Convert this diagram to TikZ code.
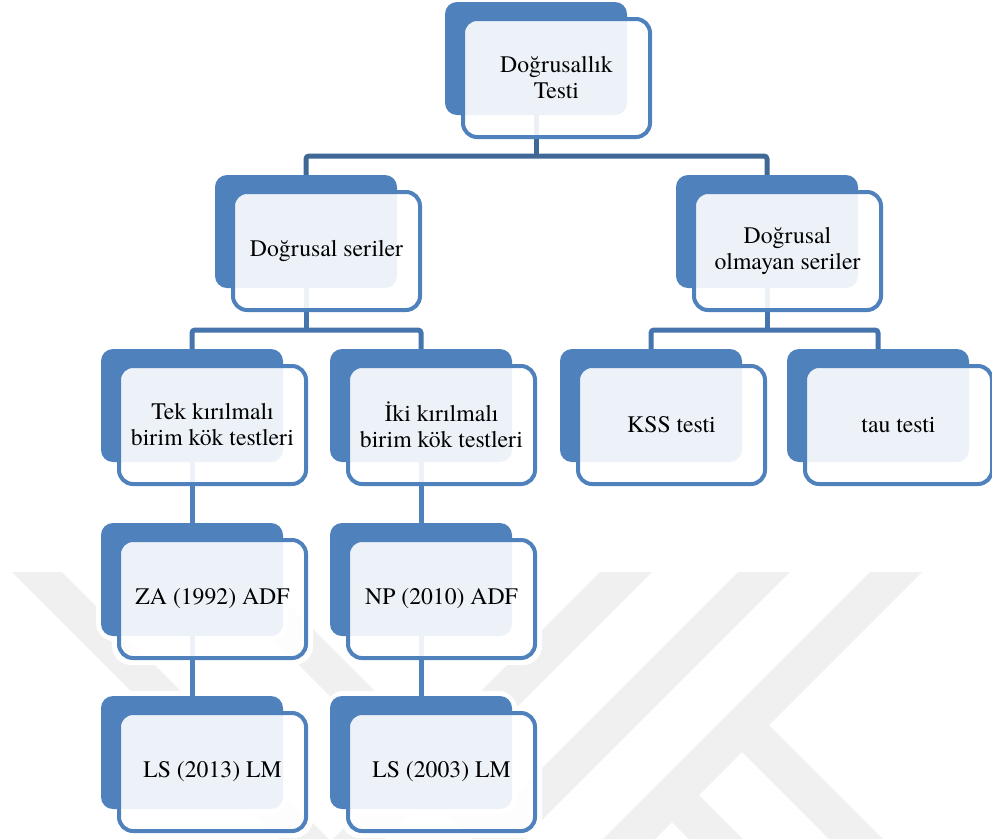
\documentclass[tikz,border=0pt]{standalone}
\usepackage{fontspec}
\IfFontExistsTF{texgyretermes-regular.otf}
  {\setmainfont{texgyretermes-regular.otf}}
  {\setmainfont{Liberation Serif}}
\usetikzlibrary{calc,positioning}
\definecolor{accent}{HTML}{4F81BD}
\definecolor{wiretop}{HTML}{3F6897}
\definecolor{wiremid}{HTML}{4674AD}
\definecolor{markgray}{HTML}{F0F0F0}
\pgfdeclarelayer{mark}
\pgfdeclarelayer{halo}
\pgfdeclarelayer{wire}
\pgfsetlayers{mark,halo,wire,main}
\tikzset{
  backbox/.style={rectangle, rounded corners=12pt, fill=accent,
    minimum width=182pt, minimum height=113pt, inner sep=0pt},
  frontbox/.style={rectangle, rounded corners=14pt, draw=accent, line width=4pt,
    fill=white, fill opacity=0.9, text opacity=1, minimum width=187pt,
    minimum height=118pt, inner sep=0pt, align=center,
    font=\fontsize{23.7}{26}\selectfont},
  wire/.style={line width=5pt, rounded corners=3pt},
  halo/.style={draw=white, line width=10pt, rounded corners=14pt},
}

\begin{document}
\begin{tikzpicture}[x=1pt, y=-1pt]
  \useasboundingbox (0,0) rectangle (992,839);

  % boxes: back centre and text
  \foreach \n/\x/\y/\txt in {
      TEST/536/58.5/{Doğrusallık\\Testi},
      LIN/306/231.5/{Doğrusal seriler},
      NONLIN/767/231.5/{Doğrusal\\olmayan seriler},
      TEK/192/405.5/{Tek kırılmalı\\birim kök testleri},
      IKI/421/405.5/{İki kırılmalı\\birim kök testleri},
      KSS/651/405.5/{KSS testi},
      TAU/878/405.5/{tau testi},
      ZA/192/579.5/{ZA (1992) ADF},
      NP/421/579.5/{NP (2010) ADF},
      LSA/192/752.5/{LS (2013) LM},
      LSB/421/752.5/{LS (2003) LM}} {
    \node[backbox] (\n-b) at (\x,\y) {};
    \node[frontbox] (\n) at ([shift={(20.5,19.5)}]\n-b.center) {\txt};
  }

  \coordinate (BUS1) at (0,156);
  \coordinate (BUS2) at (0,330);

  \begin{pgfonlayer}{wire}
    \draw[wire, draw=wiretop] (TEST-b.south) -- (TEST-b.south |- BUS1);
    \draw[wire, draw=wiretop] (LIN-b.north) -- (LIN-b.north |- BUS1) -| (NONLIN-b.north);
    \draw[wire, draw=wiremid] (LIN-b.south) -- (LIN-b.south |- BUS2);
    \draw[wire, draw=wiremid] (TEK-b.north) -- (TEK-b.north |- BUS2) -| (IKI-b.north);
    \draw[wire, draw=wiremid] (NONLIN-b.south) -- (NONLIN-b.south |- BUS2);
    \draw[wire, draw=wiremid] (KSS-b.north) -- (KSS-b.north |- BUS2) -| (TAU-b.north);
    \draw[wire, draw=accent] (TEK-b.south) -- (ZA-b.north);
    \draw[wire, draw=accent] (ZA-b.south) -- (LSA-b.north);
    \draw[wire, draw=accent] (IKI-b.south) -- (NP-b.north);
    \draw[wire, draw=accent] (NP-b.south) -- (LSB-b.north);
  \end{pgfonlayer}

  \begin{pgfonlayer}{halo}
    \foreach \n in {TEST,LIN,NONLIN,TEK,IKI,KSS,TAU,ZA,NP,LSA,LSB} {
      \draw[halo] (\n-b.north west) rectangle (\n-b.south east);
      \draw[halo] (\n.north west) rectangle (\n.south east);
    }
  \end{pgfonlayer}

  % watermark
  \begin{pgfonlayer}{mark}
    \fill[markgray] (12,572) -- (62,572) -- (329,839) -- (279,839) -- cycle;
    \fill[markgray] (206,572) -- (256,572) -- (523,839) -- (473,839) -- cycle;
    \fill[markgray] (600,572) -- (652,572) -- (385,839) -- (333,839) -- cycle;
    \fill[markgray] (738,572) -- (790,572) -- (523,839) -- (471,839) -- cycle;
    \fill[markgray] (870,572) -- (922,572) -- (655,839) -- (603,839) -- cycle;
    \fill[markgray] (762,718) -- (883,839) -- (829,839) -- (735,745) -- cycle;
    \fill[markgray] (692,788) -- (743,839) -- (689,839) -- (665,815) -- cycle;
  \end{pgfonlayer}
\end{tikzpicture}
\end{document}
